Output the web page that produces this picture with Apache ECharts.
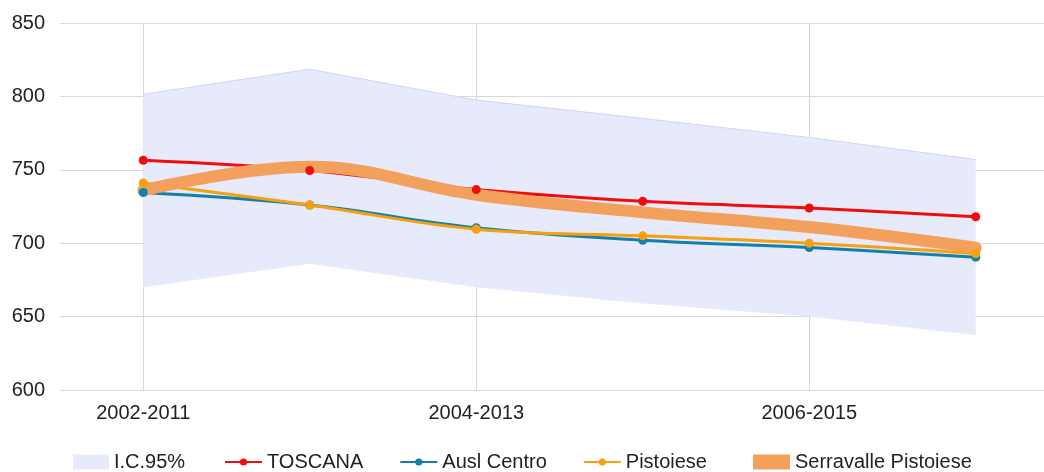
<!DOCTYPE html>
<html>
<head>
<meta charset="utf-8">
<script src="https://cdn.jsdelivr.net/npm/echarts@6/dist/echarts.min.js"></script>
<style>html,body{margin:0;padding:0;background:#fff}#c{width:1044px;height:472px}</style>
</head>
<body>
<div id="c"></div>
<script>
const categories = ['2002-2011','2003-2012','2004-2013','2005-2014','2006-2015','2007-2016'];
const icLower = [670, 686, 670, 659, 650, 637.5];
const icUpper = [801.5, 818.5, 797.5, 785, 772, 757];
const toscana = [756.5, 749.5, 736.5, 728.5, 724, 718];
const auslCentro = [734.5, 726, 710.5, 702, 697, 690.5];
const pistoiese = [741, 726, 709.5, 705, 700, 693];
const serravalle = [736, 752, 733, 721, 711, 697];
const yTicks = [600, 650, 700, 750, 800, 850];

const icBand = icUpper.map((u, i) => u - icLower[i]);
const font = "'Liberation Sans', Arial, sans-serif";
const legendText = {fontSize: 20, color: '#222', fontFamily: font};
const legendTop = 447;

const C_RED = '#f20d0d', C_BLUE = '#1380ac', C_ORANGE = '#f5a00f', C_SERRA = '#f2a05c', C_IC = '#e7eafb';

function lineSeries(name, data, color) {
  return {
    name: name, type: 'line', data: data, smooth: 0.4,
    symbol: 'circle', symbolSize: 9, showSymbol: false,
    itemStyle: {color: color}, lineStyle: {color: color, width: 3}, z: 2
  };
}
function dotSeries(name, data, color) {
  return {
    name: name + ' punti', type: 'scatter', data: data,
    symbol: 'circle', symbolSize: 9, itemStyle: {color: color, opacity: 1}, z: 4, silent: true
  };
}

const chart = echarts.init(document.getElementById('c'), null, {renderer: 'canvas'});
chart.setOption({
  animation: false,
  textStyle: {fontFamily: font},
  grid: {left: 60, width: 999, top: 23, bottom: 82, containLabel: false, outerBoundsMode: 'none'},
  xAxis: {
    type: 'category',
    data: categories,
    boundaryGap: true,
    axisLine: {show: false},
    axisTick: {show: false},
    axisLabel: {interval: 1, fontSize: 20, color: '#222', margin: 13, fontFamily: font},
    splitLine: {show: true, interval: 1, alignWithLabel: true, lineStyle: {color: '#d6d6db', width: 1}}
  },
  yAxis: {
    type: 'value',
    min: yTicks[0],
    max: yTicks[yTicks.length - 1],
    interval: 50,
    axisLine: {show: false},
    axisTick: {show: false},
    axisLabel: {fontSize: 20, color: '#222', margin: 15, fontFamily: font},
    splitLine: {lineStyle: {color: '#d9d9d9', width: 1}}
  },
  legend: [
    {
      top: legendTop, left: 68, itemWidth: 36, itemHeight: 15, itemGap: 36,
      textStyle: legendText,
      data: [{name: 'I.C.95%', icon: 'rect', itemStyle: {color: C_IC}}]
    },
    {
      top: legendTop, left: 219, itemWidth: 37, itemHeight: 9, itemGap: 36,
      textStyle: legendText,
      data: ['TOSCANA', 'Ausl Centro', 'Pistoiese']
    },
    {
      top: legendTop, left: 748, itemWidth: 37, itemHeight: 15, itemGap: 36,
      textStyle: legendText,
      data: [{name: 'Serravalle Pistoiese', icon: 'rect', itemStyle: {color: C_SERRA}}]
    }
  ],
  series: [
    {
      name: 'icLower', type: 'line', stack: 'ic', data: icLower,
      symbol: 'none', lineStyle: {opacity: 0}, z: 1, silent: true
    },
    {
      name: 'I.C.95%', type: 'line', stack: 'ic', data: icBand,
      symbol: 'none', itemStyle: {color: C_IC},
      lineStyle: {color: '#cfd6f5', width: 1},
      areaStyle: {color: C_IC, opacity: 1}, z: 1
    },
    lineSeries('TOSCANA', toscana, C_RED),
    lineSeries('Ausl Centro', auslCentro, C_BLUE),
    lineSeries('Pistoiese', pistoiese, C_ORANGE),
    {
      name: 'Serravalle Pistoiese', type: 'line', data: serravalle,
      smooth: 0.4, symbol: 'none', itemStyle: {color: C_SERRA},
      lineStyle: {color: C_SERRA, width: 12, cap: 'round', join: 'round'}, z: 3
    },
    dotSeries('TOSCANA', toscana, C_RED),
    dotSeries('Ausl Centro', auslCentro, C_BLUE),
    dotSeries('Pistoiese', pistoiese, C_ORANGE)
  ]
});
</script>
</body>
</html>
